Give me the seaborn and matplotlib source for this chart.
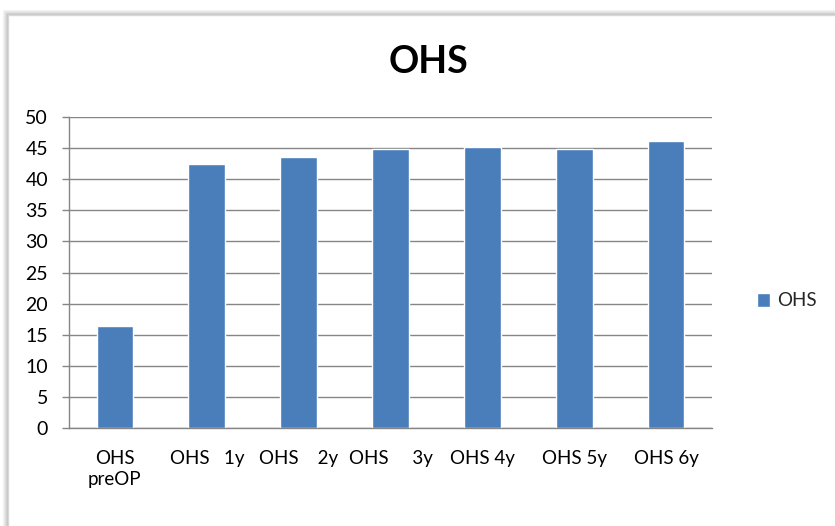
import matplotlib
matplotlib.use("Agg")
import matplotlib.pyplot as plt
import seaborn as sns
import pandas as pd
from matplotlib.patches import Rectangle

categories = ["OHS\npreOP", "OHS   1y", "OHS    2y", "OHS     3y", "OHS 4y", "OHS 5y", "OHS 6y"]
values = [16.4, 42.4, 43.6, 44.9, 45.2, 44.9, 46.1]
series_name = "OHS"
y_ticks = [0, 5, 10, 15, 20, 25, 30, 35, 40, 45, 50]

bar_color = "#4a7ebb"
grid_color = "#868686"

sns.set_style("white")
plt.rcParams["font.family"] = ["Lato", "DejaVu Sans"]

df = pd.DataFrame({"category": categories, "value": values, "series": series_name})

fig = plt.figure(figsize=(8.35, 5.26), dpi=100)
fig.patch.set_facecolor("white")

# chart area frame with a soft shadow (top and left edges), kept behind the axes
W, H = 835, 526
for i, a in enumerate([0.04, 0.06, 0.09, 0.13, 0.2]):
    off = 5 - i
    fig.add_artist(Rectangle(((8 - off) / W, -0.1), 1.2, (H - 15 + off) / H + 0.1,
                             transform=fig.transFigure, fill=False, zorder=-3,
                             edgecolor="black", alpha=a, linewidth=1.0))
fig.add_artist(Rectangle((8 / W, -0.1), 1.2, (H - 15) / H + 0.1,
                         transform=fig.transFigure, facecolor="white", zorder=-2,
                         edgecolor="#d8d8d8", linewidth=1.0))

ax = fig.add_axes([69 / W, 1 - 428 / H, (712 - 69) / W, (428 - 117) / H])
ax.patch.set_alpha(0)
sns.barplot(data=df, x="category", y="value", hue="series", palette=[bar_color],
            width=0.4, saturation=1, ax=ax, legend=True)

ax.set_ylim(0, 50)
ax.set_xlim(-0.5, len(categories) - 0.5)
ax.set_yticks(y_ticks)
ax.set_yticklabels([str(t) for t in y_ticks], fontsize=14, color="black")
ax.yaxis.grid(True, color=grid_color, linewidth=1.0)
ax.set_axisbelow(True)

# category labels centred, tick marks between categories
ax.set_xticks(range(len(categories)))
ax.set_xticklabels(categories, fontsize=13.5, linespacing=1.3, color="black")
ax.tick_params(axis="x", which="major", length=0, pad=16)
ax.set_xticks([i - 0.5 for i in range(len(categories) + 1)], minor=True)
ax.tick_params(axis="x", which="minor", length=6, color=grid_color, width=1)
ax.tick_params(axis="y", length=5, color=grid_color, width=1, pad=10, left=True)

for side in ["top", "right"]:
    ax.spines[side].set_visible(False)
for side in ["left", "bottom"]:
    ax.spines[side].set_color(grid_color)
    ax.spines[side].set_linewidth(1.0)

ax.set_xlabel("")
ax.set_ylabel("")

fig.text(428 / W, 1 - 62 / H, "OHS", ha="center", va="center",
         fontsize=27, fontweight="bold", color="black")

handles, labels = ax.get_legend_handles_labels()
ax.legend(handles, labels, loc="center left", bbox_to_anchor=(740 / W, 1 - 301 / H),
          bbox_transform=fig.transFigure, frameon=False, fontsize=13.5,
          handlelength=0.7, handleheight=0.7, handletextpad=0.4)

fig.savefig("out.png", dpi=100)
